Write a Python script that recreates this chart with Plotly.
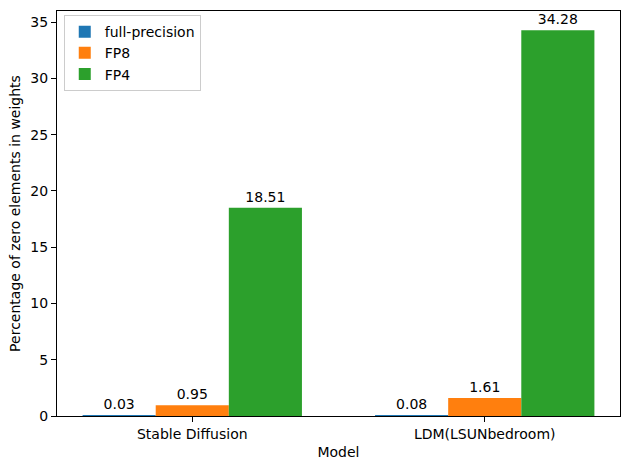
import plotly.graph_objects as go

models = ["Stable Diffusion", "LDM(LSUNbedroom)"]
series_names = ["full-precision", "FP8", "FP4"]
full_precision = [0.03, 0.08]
fp8 = [0.95, 1.61]
fp4 = [18.51, 34.28]
colors = ["#1f77b4", "#ff7f0e", "#2ca02c"]

font = dict(family="DejaVu Sans", size=14, color="black")

fig = go.Figure()
for name, vals, c in zip(series_names, [full_precision, fp8, fp4], colors):
    fig.add_trace(go.Bar(
        x=models, y=vals, name=name, marker=dict(color=c, line=dict(width=0)),
        text=[f"{v:.2f}" for v in vals], textposition="outside",
        textfont=dict(family="DejaVu Sans", size=14, color="black"),
        cliponaxis=False,
    ))

fig.update_layout(
    width=630, height=469,
    margin=dict(l=57, r=10, t=11, b=53),
    paper_bgcolor="white", plot_bgcolor="white",
    font=font,
    barmode="group", bargap=0.25, bargroupgap=0,
    uniformtext=dict(minsize=14, mode="show"),
    legend=dict(
        x=0.012, y=0.99, xanchor="left", yanchor="top",
        bgcolor="rgba(255,255,255,0.8)", bordercolor="#cccccc", borderwidth=1,
        font=dict(family="DejaVu Sans", size=14, color="black"),
        tracegroupgap=0,
    ),
    showlegend=True,
)
fig.update_xaxes(
    range=[-0.4625, 1.4625], showgrid=False, zeroline=False, automargin=False,
    showline=True, linecolor="black", linewidth=1, mirror=True,
    ticks="outside", ticklen=5, tickcolor="black",
    title=dict(text="Model", font=font, standoff=6),
)
fig.update_yaxes(
    range=[0, 35.994], showgrid=False, zeroline=False, automargin=False,
    showline=True, linecolor="black", linewidth=1, mirror=True,
    ticks="outside", ticklen=5, tickcolor="black",
    tickvals=[0, 5, 10, 15, 20, 25, 30, 35],
    title=dict(text="Percentage of zero elements in weights", font=font, standoff=6),
)

fig.write_html("out.html", config={"displayModeBar": False},
               post_script="document.body.style.margin='0';")
